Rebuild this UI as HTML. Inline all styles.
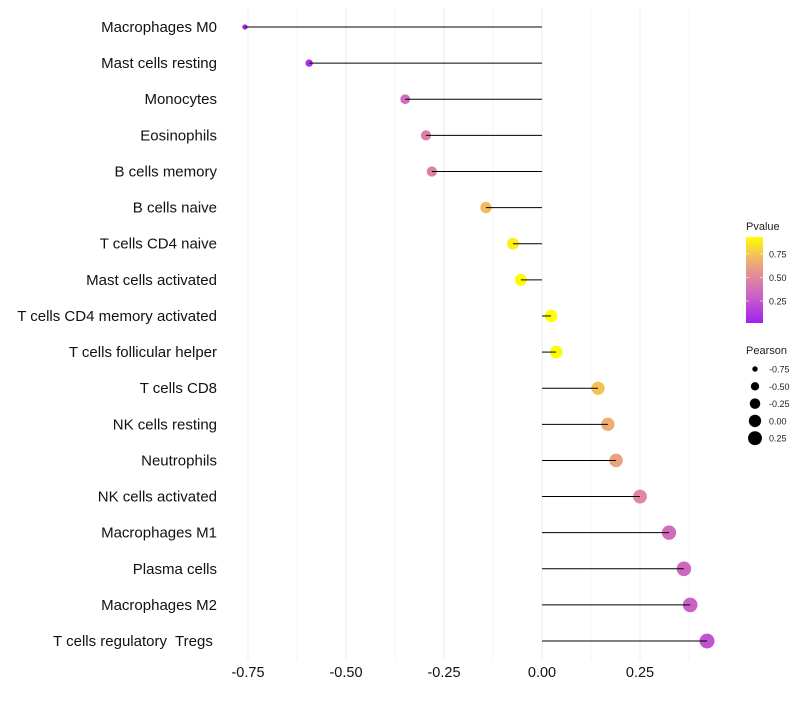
<!DOCTYPE html>
<html><head><meta charset="utf-8"><style>
body{margin:0;background:#fff;}
svg{font-family:"Liberation Sans",Arial,sans-serif;}
</style></head><body>
<svg id="c" width="800" height="700"></svg>
<script>
const categories=["Macrophages M0","Mast cells resting","Monocytes","Eosinophils","B cells memory","B cells naive","T cells CD4 naive","Mast cells activated","T cells CD4 memory activated","T cells follicular helper","T cells CD8","NK cells resting","Neutrophils","NK cells activated","Macrophages M1","Plasma cells","Macrophages M2","T cells regulatory  Tregs"];
const pearson=[-0.758,-0.594,-0.349,-0.296,-0.281,-0.143,-0.074,-0.054,0.023,0.036,0.143,0.168,0.189,0.25,0.324,0.362,0.378,0.421];
const pvalues=[0.05,0.1,0.36,0.46,0.46,0.72,0.88,0.92,0.93,0.92,0.74,0.66,0.62,0.5,0.36,0.33,0.3,0.24];
const xTicks=[-0.75,-0.5,-0.25,0,0.25];
const xTickLabels=["-0.75","-0.50","-0.25","0.00","0.25"];
const pTicks=[0.25,0.5,0.75];
const sizeTicks=[-0.75,-0.5,-0.25,0,0.25];

const NS="http://www.w3.org/2000/svg";
const svg=document.getElementById('c');
function el(t,a,p){const e=document.createElementNS(NS,t);for(const k in a)e.setAttribute(k,a[k]);(p||svg).appendChild(e);return e;}
const X=v=>542+v*392;
const Y=i=>27+i*36.12;
const R=v=>Math.sqrt(Math.max(2,38+41*v));
const pMin=0.016,pMax=0.93;
const stops=[[0,[160,32,240]],[0.3,[200,95,200]],[0.5,[222,130,165]],[0.75,[240,182,105]],[1,[255,255,0]]];
function col(p){let t=(p-pMin)/(pMax-pMin);t=Math.max(0,Math.min(1,t));
for(let i=1;i<stops.length;i++){if(t<=stops[i][0]){const a=stops[i-1],b=stops[i];const f=(t-a[0])/(b[0]-a[0]);
return 'rgb('+a[1].map((c,j)=>Math.round(c+(b[1][j]-c)*f)).join(',')+')';}}return 'rgb(255,255,0)';}

for(let i=0;i<xTicks.length;i++){
 const g=el('line',{x1:X(xTicks[i]),x2:X(xTicks[i]),y1:8,y2:660,stroke:'#ebebeb','stroke-width':1});
 
 const m=el('line',{x1:X(xTicks[i]+0.125),x2:X(xTicks[i]+0.125),y1:8,y2:660,stroke:'#f4f4f4','stroke-width':1});
 
 const t=el('text',{x:X(xTicks[i]),y:677,'text-anchor':'middle','font-size':14.5,fill:'#111'});
 t.textContent=xTickLabels[i];
 
}
for(let i=0;i<categories.length;i++){
 const y=Y(i);
 const t=el('text',{x:217,y:y+5,'text-anchor':'end','font-size':15,fill:'#111','xml:space':'preserve'});
 t.style.whiteSpace='pre';
 t.textContent=categories[i]+(categories[i].indexOf('  ')>=0?' ':'');
 
 const c=el('circle',{cx:X(pearson[i]),cy:y,r:R(pearson[i]),fill:col(pvalues[i])});
 
 const l=el('line',{x1:X(0),x2:X(pearson[i]),y1:y,y2:y,stroke:'#000','stroke-width':1});
 
}
const lt=el('text',{x:746,y:230,'font-size':11,fill:'#222'});lt.textContent='Pvalue';

const defs=el('defs',{});const lg=el('linearGradient',{id:'g',x1:0,y1:1,x2:0,y2:0},defs);
for(let k=0;k<=20;k++){const p=pMin+(pMax-pMin)*k/20;el('stop',{offset:k/20,'stop-color':col(p)},lg);}
const bar=el('rect',{x:746,y:237,width:17,height:86,fill:'url(#g)'});

const PY=p=>323-(p-pMin)/(pMax-pMin)*86;
for(const p of pTicks){
 const tl=el('text',{x:769,y:PY(p)+3.5,'font-size':9,fill:'#222'});tl.textContent=p.toFixed(2);
 
 el('line',{x1:746,x2:749,y1:PY(p),y2:PY(p),stroke:'#fff','stroke-opacity':0.6});
 el('line',{x1:760,x2:763,y1:PY(p),y2:PY(p),stroke:'#fff','stroke-opacity':0.6});
}
const st=el('text',{x:746,y:354,'font-size':11,fill:'#222'});st.textContent='Pearson';

for(let k=0;k<sizeTicks.length;k++){
 const y=369+k*17.3;
 const c=el('circle',{cx:755,cy:y,r:R(sizeTicks[k]),fill:'#000'});
 
 const tl=el('text',{x:769,y:y+3.5,'font-size':9,fill:'#222'});tl.textContent=sizeTicks[k].toFixed(2);
 
}
</script>
</body></html>
